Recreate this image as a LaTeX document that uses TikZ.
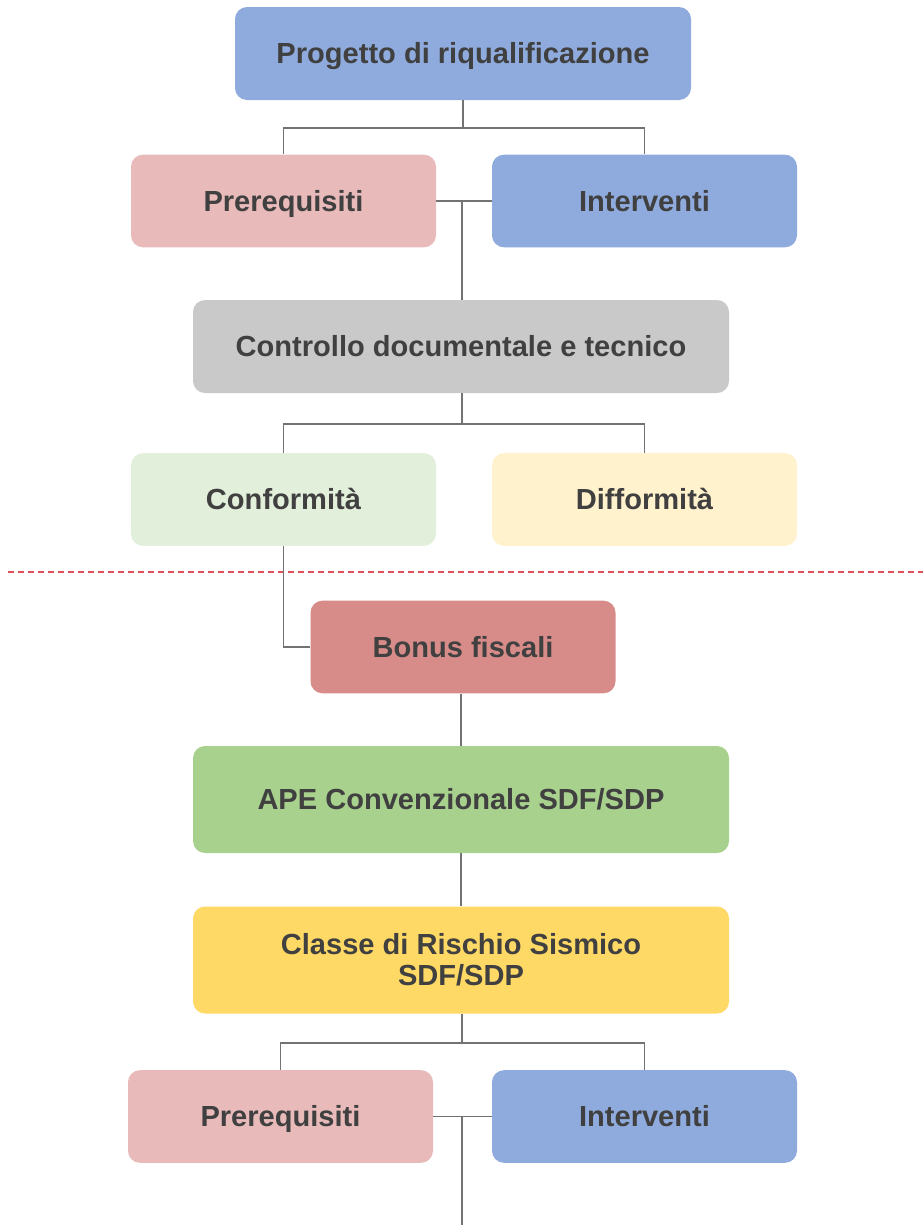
\documentclass[tikz,border=0pt]{standalone}
\usepackage{fontspec}
\setmainfont{Liberation Sans}
\usetikzlibrary{calc}

\definecolor{txtgray}{HTML}{404040}
\definecolor{linegray}{HTML}{737373}
\definecolor{progblue}{HTML}{8FABDD}
\definecolor{prepink}{HTML}{E8BABA}
\definecolor{ctrlgray}{HTML}{C9C9C9}
\definecolor{confgreen}{HTML}{E2EFDA}
\definecolor{diffyellow}{HTML}{FFF2CC}
\definecolor{bonusred}{HTML}{D78C8A}
\definecolor{apegreen}{HTML}{A9D18E}
\definecolor{classyellow}{HTML}{FFD966}
\definecolor{cutred}{HTML}{E0505A}

\tikzset{
  box/.style={rounded corners=9pt, inner sep=0pt, align=center,
    text=txtgray, font=\fontsize{21.8}{23.5}\selectfont\bfseries},
  oneline/.style={text height=15.6pt, text depth=0pt},
  halfbox/.style={box, oneline, minimum width=228.75pt, minimum height=69.5pt},
  wholebox/.style={box, oneline, minimum width=402pt, minimum height=69.75pt},
  tallbox/.style={box, minimum width=402pt, minimum height=80.25pt},
  link/.style={draw=linegray, line width=1.4pt}
}

\begin{document}
\begin{tikzpicture}[x=0.75pt, y=-0.75pt]
\useasboundingbox (0,0) rectangle (923,1225);

% boxes
\node[box, oneline, fill=progblue, minimum width=342pt, minimum height=69.75pt] (prog) at (463,53.5) {Progetto di riqualificazione};
\node[halfbox, fill=prepink] (pre1) at (283.5,201) {Prerequisiti};
\node[halfbox, fill=progblue] (int1) at (644.5,201) {Interventi};
\node[wholebox, fill=ctrlgray] (ctrl) at (461,346.5) {Controllo documentale e tecnico};
\node[halfbox, fill=confgreen] (conf) at (283.5,499.5) {Conformità};
\node[halfbox, fill=diffyellow] (diff) at (644.5,499.5) {Difformità};
\node[halfbox, fill=bonusred] (bonus) at (463,647) {Bonus fiscali};
\node[tallbox, oneline, fill=apegreen] (ape) at (461,799.5) {APE Convenzionale SDF/SDP};
\node[tallbox, fill=classyellow] (classe) at (461,960) {Classe di Rischio Sismico\\SDF/SDP};
\node[halfbox, fill=prepink] (pre2) at (280.5,1116.5) {Prerequisiti};
\node[halfbox, fill=progblue] (int2) at (644.5,1116.5) {Interventi};

% cut line
\draw[cutred, line width=1pt, dash pattern=on 4.5pt off 3pt] (8,572) -- (923,572);

% connectors
\coordinate (j1) at (463,128);
\coordinate (j2) at (462,424);
\coordinate (j3) at (462,1043);
\coordinate (m1) at (462,201);
\coordinate (m2) at (462,1116);
\coordinate (tail) at (462,1225);

\draw[link] (prog.south) -- (j1);
\draw[link] (pre1.north) |- (j1) -| (int1.north);
\draw[link] (pre1.east) -- (int1.west);
\draw[link] (m1) -- (m1 |- ctrl.north);
\draw[link] (j2 |- ctrl.south) -- (j2);
\draw[link] (conf.north) |- (j2) -| (diff.north);
\draw[link] (conf.south) |- (bonus.west);
\draw[link] (bonus.south -| ape.north) -- (ape.north);
\draw[link] (ape.south) -- (classe.north);
\draw[link] (j3 |- classe.south) -- (j3);
\draw[link] (pre2.north) |- (j3) -| (int2.north);
\draw[link] (pre2.east) -- (int2.west);
\draw[link] (m2) -- (tail);
\end{tikzpicture}
\end{document}
